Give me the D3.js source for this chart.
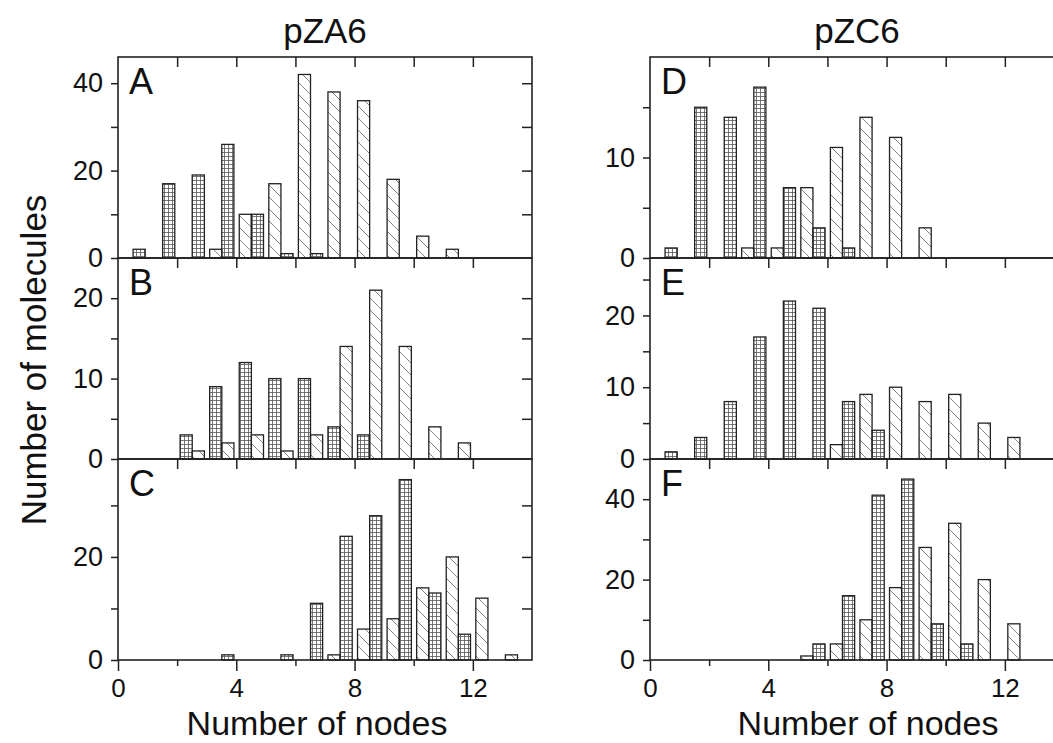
<!DOCTYPE html>
<meta charset="utf-8">
<script src="https://d3js.org/d3.v7.min.js"></script>
<style>
  body { margin: 0; background: #fff; }
  text { font-family: "Liberation Sans", Arial, sans-serif; fill: #111; }
</style>
<svg id="chart" width="1053" height="743"></svg>
<script>

  // bins of the node count (bar pair sits between k and k+1)
  var bins = [0, 1, 2, 3, 4, 5, 6, 7, 8, 9, 10, 11, 12, 13];

  // pZA6
  var gridA  = [2, 17, 19, 26, 10, 1, 1, 0, 0, 0, 0, 0, 0, 0];
  var hatchA = [0, 0, 0, 2, 10, 17, 42, 38, 36, 18, 5, 2, 0, 0];
  var gridB  = [0, 0, 3, 9, 12, 10, 10, 4, 3, 0, 0, 0, 0, 0];
  var hatchB = [0, 0, 1, 2, 3, 1, 3, 14, 21, 14, 4, 2, 0, 0];
  var gridC  = [0, 0, 0, 1, 0, 1, 11, 24, 28, 35, 13, 5, 0, 0];
  var hatchC = [0, 0, 0, 0, 0, 0, 0, 1, 6, 8, 14, 20, 12, 1];

  // pZC6
  var gridD  = [1, 15, 14, 17, 7, 3, 1, 0, 0, 0, 0, 0, 0, 0];
  var hatchD = [0, 0, 0, 1, 1, 7, 11, 14, 12, 3, 0, 0, 0, 0];
  var gridE  = [1, 3, 8, 17, 22, 21, 8, 4, 0, 0, 0, 0, 0, 0];
  var hatchE = [0, 0, 0, 0, 0, 0, 2, 9, 10, 8, 9, 5, 3, 0];
  var gridF  = [0, 0, 0, 0, 0, 4, 16, 41, 45, 9, 4, 0, 0, 0];
  var hatchF = [0, 0, 0, 0, 0, 1, 4, 10, 18, 28, 34, 20, 9, 0];

  var xLabelTicks = [0, 4, 8, 12];
  var xMinorTicks = [2, 6, 10];
  var titles = ["pZA6", "pZC6"];

  var panels = [
    {name: "A", col: 0, row: 0, grid: gridA, hatch: hatchA, yMax: 46, step: 10, labelStep: 20, gridFirst: false},
    {name: "B", col: 0, row: 1, grid: gridB, hatch: hatchB, yMax: 25, step: 5,  labelStep: 10, gridFirst: true},
    {name: "C", col: 0, row: 2, grid: gridC, hatch: hatchC, yMax: 39, step: 10, labelStep: 20, gridFirst: false},
    {name: "D", col: 1, row: 0, grid: gridD, hatch: hatchD, yMax: 20, step: 5,  labelStep: 10, gridFirst: false},
    {name: "E", col: 1, row: 1, grid: gridE, hatch: hatchE, yMax: 28, step: 5,  labelStep: 10, gridFirst: false},
    {name: "F", col: 1, row: 2, grid: gridF, hatch: hatchF, yMax: 50, step: 10, labelStep: 20, gridFirst: false}
  ];

  var svg = d3.select("#chart");
  var colLeft = [118, 650], plotW = 414;
  var rowTop = [57, 258, 459], plotH = 201;

  // fill patterns
  var defs = svg.append("defs");
  var gp = defs.append("pattern").attr("id", "gridPat")
      .attr("patternUnits", "userSpaceOnUse").attr("width", 4).attr("height", 4);
  gp.append("path").attr("d", "M0,0.5 H4 M0.5,0 V4")
      .attr("stroke", "#555").attr("stroke-width", 0.8).attr("fill", "none");
  var hp = defs.append("pattern").attr("id", "hatchPat")
      .attr("patternUnits", "userSpaceOnUse").attr("width", 12).attr("height", 12);
  hp.append("path").attr("d", "M0,0 L12,12 M-3,9 L3,15 M9,-3 L15,3")
      .attr("stroke", "#777").attr("stroke-width", 0.9).attr("fill", "none");

  panels.forEach(function(p) {
    var x0 = colLeft[p.col], top = rowTop[p.row];
    var x = d3.scaleLinear().domain([0, 14]).range([x0, x0 + plotW]);
    var y = d3.scaleLinear().domain([0, p.yMax]).range([top + plotH, top]);
    var g = svg.append("g");

    // bars: left slot [k+0.1, k+0.51], right slot [k+0.51, k+0.92]
    var series = [
      {vals: p.gridFirst ? p.grid : p.hatch, off: 0.1,  fill: p.gridFirst ? "url(#gridPat)" : "url(#hatchPat)"},
      {vals: p.gridFirst ? p.hatch : p.grid, off: 0.51, fill: p.gridFirst ? "url(#hatchPat)" : "url(#gridPat)"}
    ];
    series.forEach(function(s) {
      g.selectAll(null)
        .data(bins.filter(function(k) { return s.vals[k] > 0; }))
        .enter().append("rect")
          .attr("x", function(k) { return x(k + s.off); })
          .attr("width", x(0.41) - x(0))
          .attr("y", function(k) { return y(s.vals[k]); })
          .attr("height", function(k) { return y(0) - y(s.vals[k]); })
          .attr("fill", s.fill)
          .attr("stroke", "#222")
          .attr("stroke-width", 1.3);
    });

    var yTicks = d3.range(0, p.yMax + 0.01, p.step).filter(function(v) { return v < p.yMax; });

    // left axis, outward ticks
    var left = g.append("g").attr("transform", "translate(" + x0 + ",0)")
      .call(d3.axisLeft(y).tickValues(yTicks).tickSize(7).tickPadding(8)
        .tickFormat(function(d) { return d % p.labelStep === 0 ? d : ""; }));
    // right axis, inward ticks
    var right = g.append("g").attr("transform", "translate(" + (x0 + plotW) + ",0)")
      .call(d3.axisLeft(y).tickValues(yTicks.filter(function(v) { return v > 0; })).tickSize(10).tickFormat(""));
    // top axis, inward ticks
    var topAx = g.append("g").attr("transform", "translate(0," + top + ")")
      .call(d3.axisBottom(x).tickValues(xMinorTicks.concat(xLabelTicks).filter(function(v) { return v > 0; }))
        .tickSize(10).tickFormat(""));

    [left, right, topAx].forEach(function(a) {
      a.select(".domain").remove();
      a.selectAll("line").attr("stroke", "#222").attr("stroke-width", 1.5);
    });
    left.selectAll("text").style("font-size", "27px").attr("fill", "#111");

    if (p.row === 2) {
      var bMajor = g.append("g").attr("transform", "translate(0," + (top + plotH) + ")")
        .call(d3.axisBottom(x).tickValues(xLabelTicks).tickSize(11).tickPadding(8));
      var bMinor = g.append("g").attr("transform", "translate(0," + (top + plotH) + ")")
        .call(d3.axisBottom(x).tickValues(xMinorTicks).tickSize(6).tickFormat(""));
      [bMajor, bMinor].forEach(function(a) {
        a.select(".domain").remove();
        a.selectAll("line").attr("stroke", "#222").attr("stroke-width", 1.5);
      });
      bMajor.selectAll("text").style("font-size", "26px").attr("fill", "#111");

      svg.append("text")
        .attr("x", p.col === 0 ? 317 : 868)
        .attr("y", 735)
        .attr("text-anchor", "middle")
        .style("font-size", "34px")
        .text("Number of nodes");
    }

    if (p.row === 0) {
      svg.append("text")
        .attr("x", x(7))
        .attr("y", 43)
        .attr("text-anchor", "middle")
        .style("font-size", "35px")
        .text(titles[p.col]);
    }

    // frame
    g.append("rect")
      .attr("x", x0).attr("y", top)
      .attr("width", plotW).attr("height", plotH)
      .attr("fill", "none").attr("stroke", "#222").attr("stroke-width", 1.6);

    // panel letter
    g.append("text")
      .attr("x", x0 + 11)
      .attr("y", top + 37)
      .style("font-size", "36px")
      .text(p.name);
  });

  svg.append("text")
    .attr("transform", "translate(46,360) rotate(-90)")
    .attr("text-anchor", "middle")
    .style("font-size", "35px")
    .text("Number of molecules");

</script>
